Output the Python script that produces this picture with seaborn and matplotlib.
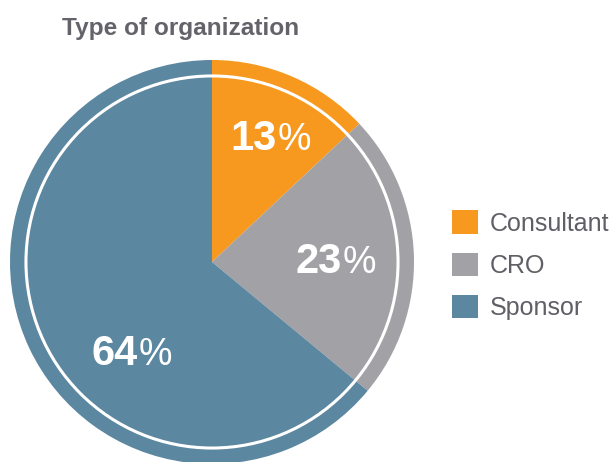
import matplotlib
matplotlib.use("Agg")
import matplotlib.pyplot as plt
import seaborn as sns
import numpy as np
from matplotlib.patches import Circle, Patch

sns.set_theme(style="white")
plt.rcParams['font.family'] = ['Liberation Sans', 'DejaVu Sans']

categories = ["Consultant", "CRO", "Sponsor"]
values = [13, 23, 64]
colors = ["#F7981F", "#A2A1A6", "#5B87A0"]
title = "Type of organization"

W, H = 614, 462
fig = plt.figure(figsize=(W / 100, H / 100), dpi=100)
cx, cy, R = 212, 262, 202
ax = fig.add_axes([(cx - R) / W, (H - cy - R) / H, 2 * R / W, 2 * R / H])
ax.pie(values, colors=colors, startangle=90, counterclock=False, radius=1,
       wedgeprops=dict(linewidth=0))
ax.set_xlim(-1, 1)
ax.set_ylim(-1, 1)
ax.set_aspect('auto')
ax.axis('off')
ax.add_patch(Circle((0, 0), 0.921, fill=False, edgecolor='white', linewidth=2.2))

# label positions (pixel: boundary between number and %, baseline)
label_px = [(276.5, 150), (342, 273), (137.5, 365)]
for v, (px, py) in zip(values, label_px):
    x = (px - cx) / R
    y = (cy - py) / R
    ax.text(x, y, f"{v}", color='white', fontsize=30, fontweight='bold',
            ha='right', va='baseline')
    ax.text(x + 0.005, y, "%", color='white', fontsize=27, fontweight='normal',
            ha='left', va='baseline')

fig.text(181 / W, 1 - 28 / H, title, ha='center', va='center', fontsize=17.6,
         fontweight='bold', color='#636369')

handles = [Patch(facecolor=c, edgecolor='none') for c in colors]
leg = fig.legend(handles, categories, loc='upper left',
                 bbox_to_anchor=(434 / W, 1 - 193 / H), frameon=False,
                 fontsize=18, handlelength=1.04, handleheight=1.04,
                 handletextpad=0.48, labelspacing=0.68, borderpad=0.2)
for t in leg.get_texts():
    t.set_color('#5F5F66')

fig.savefig("out.png", dpi=100)
